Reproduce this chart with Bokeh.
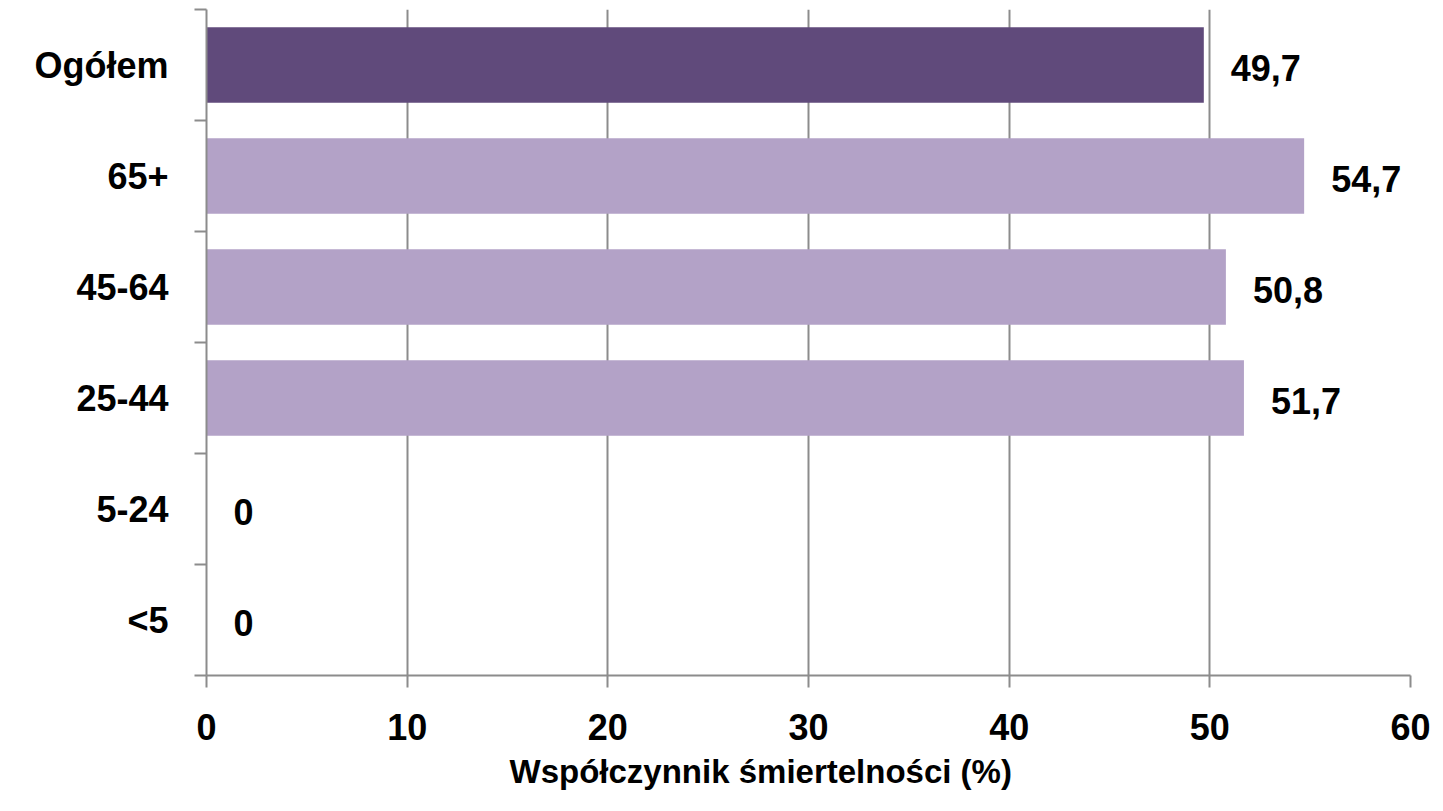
from bokeh.plotting import figure
from bokeh.models import ColumnDataSource, Range1d, FixedTicker, LabelSet, Title
from bokeh.core.properties import value
from bokeh.embed import file_html
from bokeh.resources import INLINE

# Data (bottom to top)
categories = ["<5", "5-24", "25-44", "45-64", "65+", "Ogółem"]
values = [0, 0, 51.7, 50.8, 54.7, 49.7]
x_ticks = [0, 10, 20, 30, 40, 50, 60]
x_title = "Współczynnik śmiertelności (%)"

DARK = "#604A7B"
LIGHT = "#B3A2C7"
GRAY = "#8C8C8C"
FONT = "Liberation Sans"

ypos = [i + 0.5 for i in range(len(categories))]
labels = ["0" if v == 0 else f"{v:.1f}".replace(".", ",") for v in values]
colors = [DARK if c == "Ogółem" else LIGHT for c in categories]

source = ColumnDataSource(dict(y=ypos, v=values, label=labels, color=colors))

p = figure(width=1443, height=811, output_backend="svg", toolbar_location=None,
           x_range=Range1d(0, 60), y_range=Range1d(0, len(categories)),
           min_border_left=206, min_border_right=33, min_border_top=9,
           min_border_bottom=136)
p.outline_line_color = None
p.background_fill_color = "white"
p.border_fill_color = "white"

p.hbar(y="y", left=0, right="v", height=0.68, color="color", line_color=None,
       source=source)

lbl = LabelSet(x="v", y="y", text="label", source=source, x_offset=27, y_offset=-3,
               text_align="left", text_baseline="middle",
               text_font=value(FONT), text_font_style="bold", text_font_size="36px",
               text_color="black")
p.add_layout(lbl)

# X axis
xa = p.xaxis[0]
xa.ticker = FixedTicker(ticks=x_ticks)
xa.axis_line_color = GRAY
xa.axis_line_width = 2
xa.major_tick_line_color = GRAY
xa.major_tick_line_width = 2
xa.major_tick_in = 0
xa.major_tick_out = 12
xa.minor_tick_line_color = None
xa.major_label_text_font = FONT
xa.major_label_text_font_style = "bold"
xa.major_label_text_font_size = "36px"
xa.major_label_text_color = "black"
xa.major_label_standoff = 26

title = Title(text=x_title, align="left", offset=297,
              text_font=FONT, text_font_style="bold", text_font_size="33px",
              text_color="black", standoff=5, padding=6)
p.add_layout(title, "below")

# Y axis: labels at band centres, ticks at band boundaries
ya = p.yaxis[0]
ya.ticker = FixedTicker(ticks=ypos, minor_ticks=list(range(len(categories) + 1)))
ya.major_label_overrides = {y: c for y, c in zip(ypos, categories)}
ya.axis_line_color = GRAY
ya.axis_line_width = 2
ya.major_tick_line_color = None
ya.major_tick_in = 0
ya.major_tick_out = 0
ya.minor_tick_line_color = GRAY
ya.minor_tick_line_width = 2
ya.minor_tick_in = 0
ya.minor_tick_out = 12
ya.major_label_text_font = FONT
ya.major_label_text_font_style = "bold"
ya.major_label_text_font_size = "36px"
ya.major_label_text_color = "black"
ya.major_label_standoff = 26

# Grid
p.ygrid.grid_line_color = None
p.xgrid.ticker = FixedTicker(ticks=x_ticks)
p.xgrid.grid_line_color = GRAY
p.xgrid.grid_line_width = 2

open("out.html", "w").write(file_html(p, INLINE))
